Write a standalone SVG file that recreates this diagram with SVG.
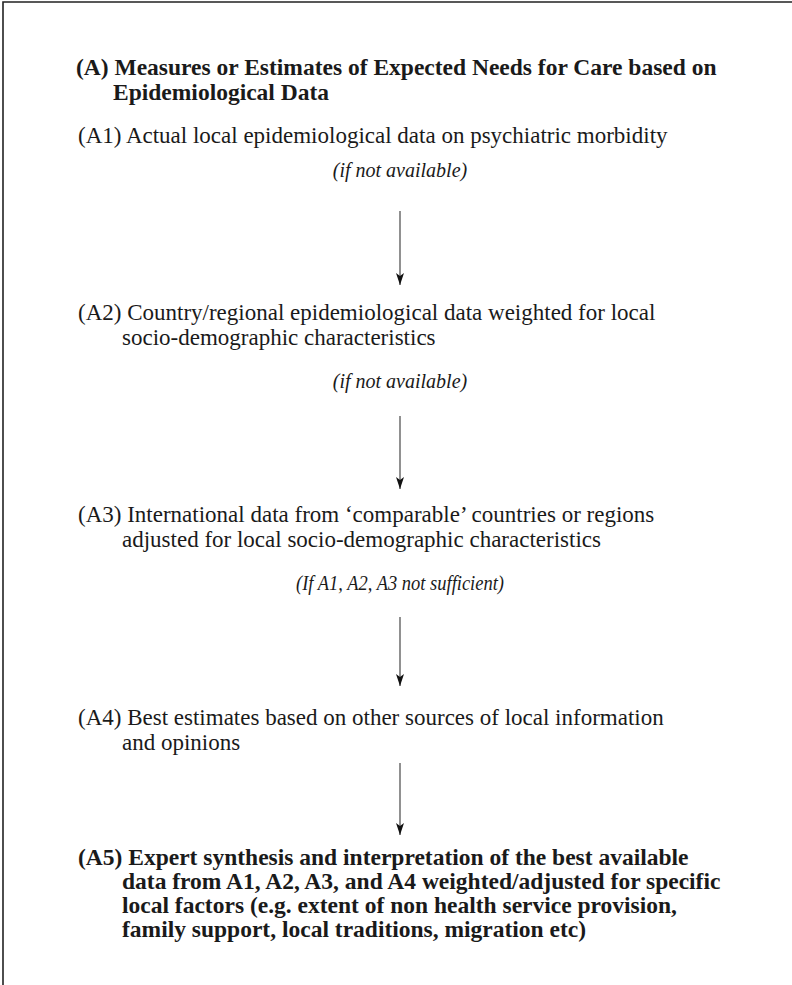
<svg xmlns="http://www.w3.org/2000/svg" width="792" height="985" viewBox="0 0 792 985">
<style>
text{font-family:"Liberation Serif","DejaVu Serif",serif;font-size:23px;fill:#1a1a1a}
.b{font-weight:bold;font-size:23.5px}
.i{font-style:italic;font-size:20px}
.c{text-anchor:middle}
.edge{stroke:#555;stroke-width:1.3;fill:none}
.frame{stroke:#222;stroke-width:1.6;fill:none}
</style>
<defs>
<marker id="ah" viewBox="0 0 12 8" refX="12" refY="4" markerWidth="12" markerHeight="8" markerUnits="userSpaceOnUse" orient="auto">
<path d="M0,0 L12,4 L0,8 L3,4 Z" fill="#111"/>
</marker>
</defs>
<rect width="792" height="985" fill="#fff"/>
<path class="frame" d="M3,985 V2 H792"/>
<g id="titleA">
<text class="b" x="76" y="75">(A) Measures or Estimates of Expected Needs for Care based on</text>
<text class="b" x="113" y="100">Epidemiological Data</text>
</g>
<g id="A1">
<text x="78" y="143">(A1) Actual local epidemiological data on psychiatric morbidity</text>
</g>
<g id="A2">
<text x="78" y="320">(A2) Country/regional epidemiological data weighted for local</text>
<text x="122" y="345">socio-demographic characteristics</text>
</g>
<g id="A3">
<text x="78" y="522">(A3) International data from ‘comparable’ countries or regions</text>
<text x="122" y="547">adjusted for local socio-demographic characteristics</text>
</g>
<g id="A4">
<text x="78" y="725">(A4) Best estimates based on other sources of local information</text>
<text x="122" y="750">and opinions</text>
</g>
<g id="A5">
<text class="b" x="78" y="865">(A5) Expert synthesis and interpretation of the best available</text>
<text class="b" x="122" y="889">data from A1, A2, A3, and A4 weighted/adjusted for specific</text>
<text class="b" x="122" y="913">local factors (e.g. extent of non health service provision,</text>
<text class="b" x="122" y="937">family support, local traditions, migration etc)</text>
</g>
<g id="connectors">
<text class="i c" x="400" y="177">(if not available)</text>
<line class="edge" x1="400" y1="211" x2="400" y2="285" marker-end="url(#ah)"/>
<text class="i c" x="400" y="388">(if not available)</text>
<line class="edge" x1="400" y1="416" x2="400" y2="489" marker-end="url(#ah)"/>
<text class="i c" x="400" y="590" textLength="208" lengthAdjust="spacingAndGlyphs">(If A1, A2, A3 not sufficient)</text>
<line class="edge" x1="400" y1="617" x2="400" y2="686" marker-end="url(#ah)"/>
<line class="edge" x1="400" y1="763" x2="400" y2="835" marker-end="url(#ah)"/>
</g>
</svg>
